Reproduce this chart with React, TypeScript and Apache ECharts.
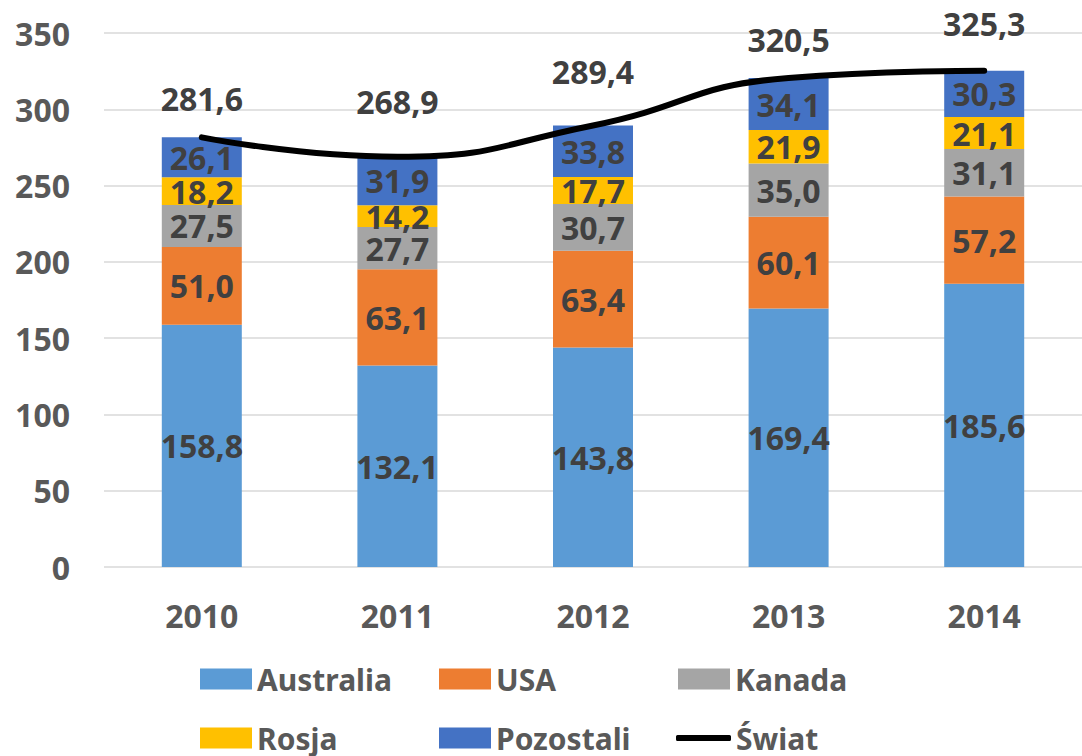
import React, { useEffect, useRef } from "react";
import * as echarts from "echarts";

const years = ["2010", "2011", "2012", "2013", "2014"];
const australia = [158.8, 132.1, 143.8, 169.4, 185.6];
const usa = [51.0, 63.1, 63.4, 60.1, 57.2];
const kanada = [27.5, 27.7, 30.7, 35.0, 31.1];
const rosja = [18.2, 14.2, 17.7, 21.9, 21.1];
const pozostali = [26.1, 31.9, 33.8, 34.1, 30.3];
const swiat = [281.6, 268.9, 289.4, 320.5, 325.3];
const yTicks = { min: 0, max: 350, interval: 50 };

const FONT = "'Noto Sans', 'Open Sans', sans-serif";
const fmt = (v: number) => v.toFixed(1).replace(".", ",");

export default function App() {
  const ref = useRef<HTMLDivElement>(null);
  useEffect(() => {
    if (!ref.current) return;
    const chart = echarts.init(ref.current, null, { renderer: "svg" });
    const barLabel = {
      show: true,
      position: "inside" as const,
      color: "#404040",
      fontSize: 32,
      fontWeight: "bold" as const,
      fontFamily: FONT,
      formatter: (p: any) => fmt(Number(p.value)),
    };
    const bars = [
      { name: "Australia", data: australia, color: "#5B9BD5" },
      { name: "USA", data: usa, color: "#ED7D31" },
      { name: "Kanada", data: kanada, color: "#A5A5A5" },
      { name: "Rosja", data: rosja, color: "#FFC000" },
      { name: "Pozostali", data: pozostali, color: "#4472C4" },
    ];
    const worldLabelOffsets = [-39, -55, -54, -39, -47];
    const legendPos = [
      { name: "Australia", left: 200, top: 664 },
      { name: "USA", left: 439, top: 664 },
      { name: "Kanada", left: 678, top: 664 },
      { name: "Rosja", left: 200, top: 723 },
      { name: "Pozostali", left: 439, top: 723 },
    ];
    const legendText = { fontSize: 30, fontWeight: "bold", color: "#595959", fontFamily: FONT };
    chart.setOption({
      animation: false,
      backgroundColor: "#ffffff",
      grid: { left: 104, right: -8, top: 33, bottom: 189, containLabel: false },
      legend: [
        ...legendPos.map((l) => ({
          data: [l.name],
          left: l.left,
          top: l.top,
          padding: 0,
          itemGap: 0,
          itemWidth: 52,
          itemHeight: 21,
          icon: "rect",
          textStyle: legendText,
        })),
        {
          data: [{ name: "Świat", icon: "roundRect" }],
          left: 676,
          top: 723,
          padding: 0,
          itemGap: 0,
          itemWidth: 55,
          itemHeight: 6,
          itemStyle: { color: "#000000", borderWidth: 0 },
          lineStyle: { width: 0 },
          textStyle: legendText,
        },
      ],
      xAxis: {
        type: "category",
        data: years,
        axisLine: { show: false },
        axisTick: { show: false },
        axisLabel: { color: "#595959", fontSize: 32, fontWeight: "bold", fontFamily: FONT, margin: 32 },
      },
      yAxis: {
        type: "value",
        min: yTicks.min,
        max: yTicks.max,
        interval: yTicks.interval,
        axisLine: { show: false },
        axisTick: { show: false },
        splitLine: { lineStyle: { color: "#D9D9D9", width: 1.5 } },
        axisLabel: { color: "#595959", fontSize: 32, fontWeight: "bold", fontFamily: FONT, margin: 34 },
      },
      series: [
        ...bars.map((b) => ({
          name: b.name,
          type: "bar",
          stack: "total",
          barWidth: 80,
          data: b.data,
          itemStyle: { color: b.color },
          label: barLabel,
        })),
        {
          name: "Świat",
          type: "line",
          data: swiat.map((v, i) => ({
            value: v,
            label: { offset: [0, worldLabelOffsets[i]] },
          })),
          smooth: 0.5,
          symbol: "circle",
          symbolSize: 0.1,
          showSymbol: true,
          clip: false,
          z: 5,
          lineStyle: { color: "#000000", width: 6, cap: "round" },
          itemStyle: { color: "#000000" },
          label: {
            show: true,
            position: "inside",
            color: "#404040",
            fontSize: 32,
            fontWeight: "bold",
            fontFamily: FONT,
            formatter: (p: any) => fmt(Number(p.value)),
          },
        },
      ],
    });
    return () => chart.dispose();
  }, []);
  return (
    <div
      ref={ref}
      style={{ position: "absolute", left: 0, top: 0, width: 1082, height: 756 }}
    />
  );
}
